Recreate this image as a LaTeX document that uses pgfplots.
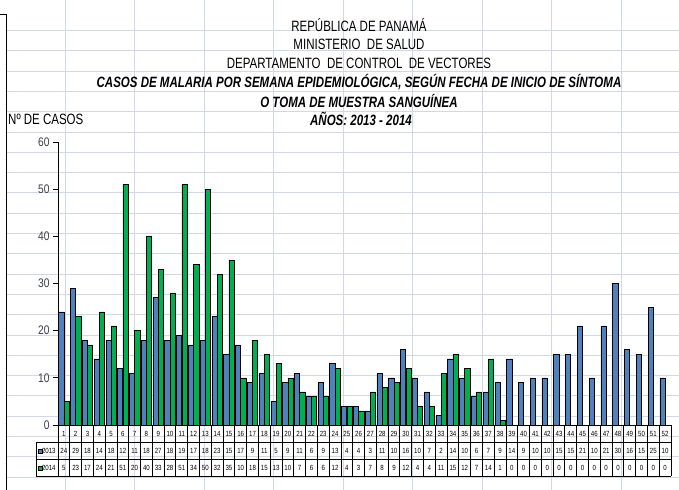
\documentclass[border=0pt]{standalone}
\usepackage{pgfplots}
\pgfplotsset{compat=1.18}
\usepackage{pgfplotstable}
\usepackage{fontspec}
\setmainfont[FakeStretch=0.82]{Liberation Sans}
\newfontfamily\titlef[FakeStretch=0.77]{Liberation Sans}
\definecolor{blu}{HTML}{4F81BD}
\definecolor{grn}{HTML}{00B050}
\definecolor{gridc}{HTML}{D0D7E5}
\definecolor{tickc}{HTML}{3C3C50}
\newcommand\titlefont{\titlef\fontsize{15}{17}\selectfont}
\newcommand\tabfont{\fontsize{7.5}{8}\selectfont}
\pgfplotstableread{
w a b
1 24 5
2 29 23
3 18 17
4 14 24
5 18 21
6 12 51
7 11 20
8 18 40
9 27 33
10 18 28
11 19 51
12 17 34
13 18 50
14 23 32
15 15 35
16 17 10
17 9 18
18 11 15
19 5 13
20 9 10
21 11 7
22 6 6
23 9 6
24 13 12
25 4 4
26 4 3
27 3 7
28 11 8
29 10 9
30 16 12
31 10 4
32 7 4
33 2 11
34 14 15
35 10 12
36 6 7
37 7 14
38 9 1
39 14 0
40 9 0
41 10 0
42 10 0
43 15 0
44 15 0
45 21 0
46 10 0
47 21 0
48 30 0
49 16 0
50 15 0
51 25 0
52 10 0
}\data
\begin{document}
\begin{tikzpicture}
\path[use as bounding box] (0,0) rectangle (679bp,-490bp);
% spreadsheet grid
\foreach \k in {1,...,23}{\pgfmathsetmacro\yy{-(10.2+20.3*\k)}
  \draw[gridc, line width=1bp] (6bp,\yy bp) -- (679bp,\yy bp);}
\foreach \xx in {65,134.5,204,273.5,343,412.5,482,551.5,621}{
  \draw[gridc, line width=1bp] (\xx bp,0bp) -- (\xx bp,-490bp);}
\draw[black, line width=1bp] (0bp,-14bp) -- (6bp,-14bp) -- (6bp,-490bp);
% titles
\node[font=\titlefont] at (359bp,-25bp) {REPÚBLICA DE PANAMÁ};
\node[font=\titlefont] at (359bp,-44bp) {MINISTERIO\ \ DE SALUD};
\node[font=\titlefont] at (359bp,-63bp) {DEPARTAMENTO\ \ DE CONTROL\ \ DE VECTORES};
\node[font=\titlefont\bfseries\itshape] at (359bp,-82bp) {CASOS DE MALARIA POR SEMANA EPIDEMIOLÓGICA, SEGÚN FECHA DE INICIO DE SÍNTOMA};
\node[font=\titlefont\bfseries\itshape] at (359bp,-101bp) {O TOMA DE MUESTRA SANGUÍNEA};
\node[font=\titlefont\bfseries\itshape] at (361bp,-119bp) {AÑOS: 2013 - 2014};
\node[font=\titlefont, anchor=west, inner sep=0pt] at (8bp,-119bp) {Nº DE CASOS};
\begin{axis}[
  at={(58bp,-425bp)}, anchor=south west,
  scale only axis, width=613bp, height=283bp,
  xmin=0.5, xmax=52.5, ymin=0, ymax=60,
  axis lines=left, axis line style={-, black, line width=0.9bp},
  xtick=\empty,
  ytick={0,10,...,60},
  tick align=outside, major tick length=5bp,
  tick style={black, line width=0.9bp},
  y tick label style={font=\fontsize{12.5}{14}\selectfont, text=tickc},
  /pgf/number format/assume math mode=true,
  clip=false,
]
\addplot[ybar, bar width=0.44, bar shift=-0.225, fill=blu, draw=black, line width=0.6bp] table[x=w,y=a]{\data};
\addplot[ybar, bar width=0.44, bar shift=0.225, fill=grn, draw=black, line width=0.6bp] table[x=w,y=b]{\data};
\addplot[draw=none, mark=none, nodes near coords, point meta=explicit symbolic,
  nodes near coords style={anchor=center, font=\tabfont, text=black, inner sep=0pt}]
  table[x=w, y expr=-1.80, meta=w]{\data};
\addplot[draw=none, mark=none, nodes near coords, point meta=explicit symbolic,
  nodes near coords style={anchor=center, font=\tabfont, text=black, inner sep=0pt}]
  table[x=w, y expr=-5.41, meta=a]{\data};
\addplot[draw=none, mark=none, nodes near coords, point meta=explicit symbolic,
  nodes near coords style={anchor=center, font=\tabfont, text=black, inner sep=0pt}]
  table[x=w, y expr=-9.01, meta=b]{\data};
\end{axis}
% data table borders
\foreach \k in {0,...,52}{\pgfmathsetmacro\xx{58+11.788*\k}
  \draw[black, line width=0.8bp] (\xx bp,-425bp) -- (\xx bp,-476bp);}
\draw[black, line width=0.8bp] (36bp,-442bp) -- (671bp,-442bp);
\draw[black, line width=0.8bp] (36bp,-459bp) -- (671bp,-459bp);
\draw[black, line width=0.8bp] (36bp,-476bp) -- (671bp,-476bp);
\draw[black, line width=0.8bp] (36bp,-442bp) -- (36bp,-476bp);
\node[anchor=west, font=\tabfont, inner sep=0pt] at (38bp,-450.5bp) {\tikz\draw[black,fill=blu,line width=0.3bp] (0,0) rectangle (3.5bp,3.5bp);2013};
\node[anchor=west, font=\tabfont, inner sep=0pt] at (38bp,-467.5bp) {\tikz\draw[black,fill=grn,line width=0.3bp] (0,0) rectangle (3.5bp,3.5bp);2014};
\end{tikzpicture}
\end{document}
